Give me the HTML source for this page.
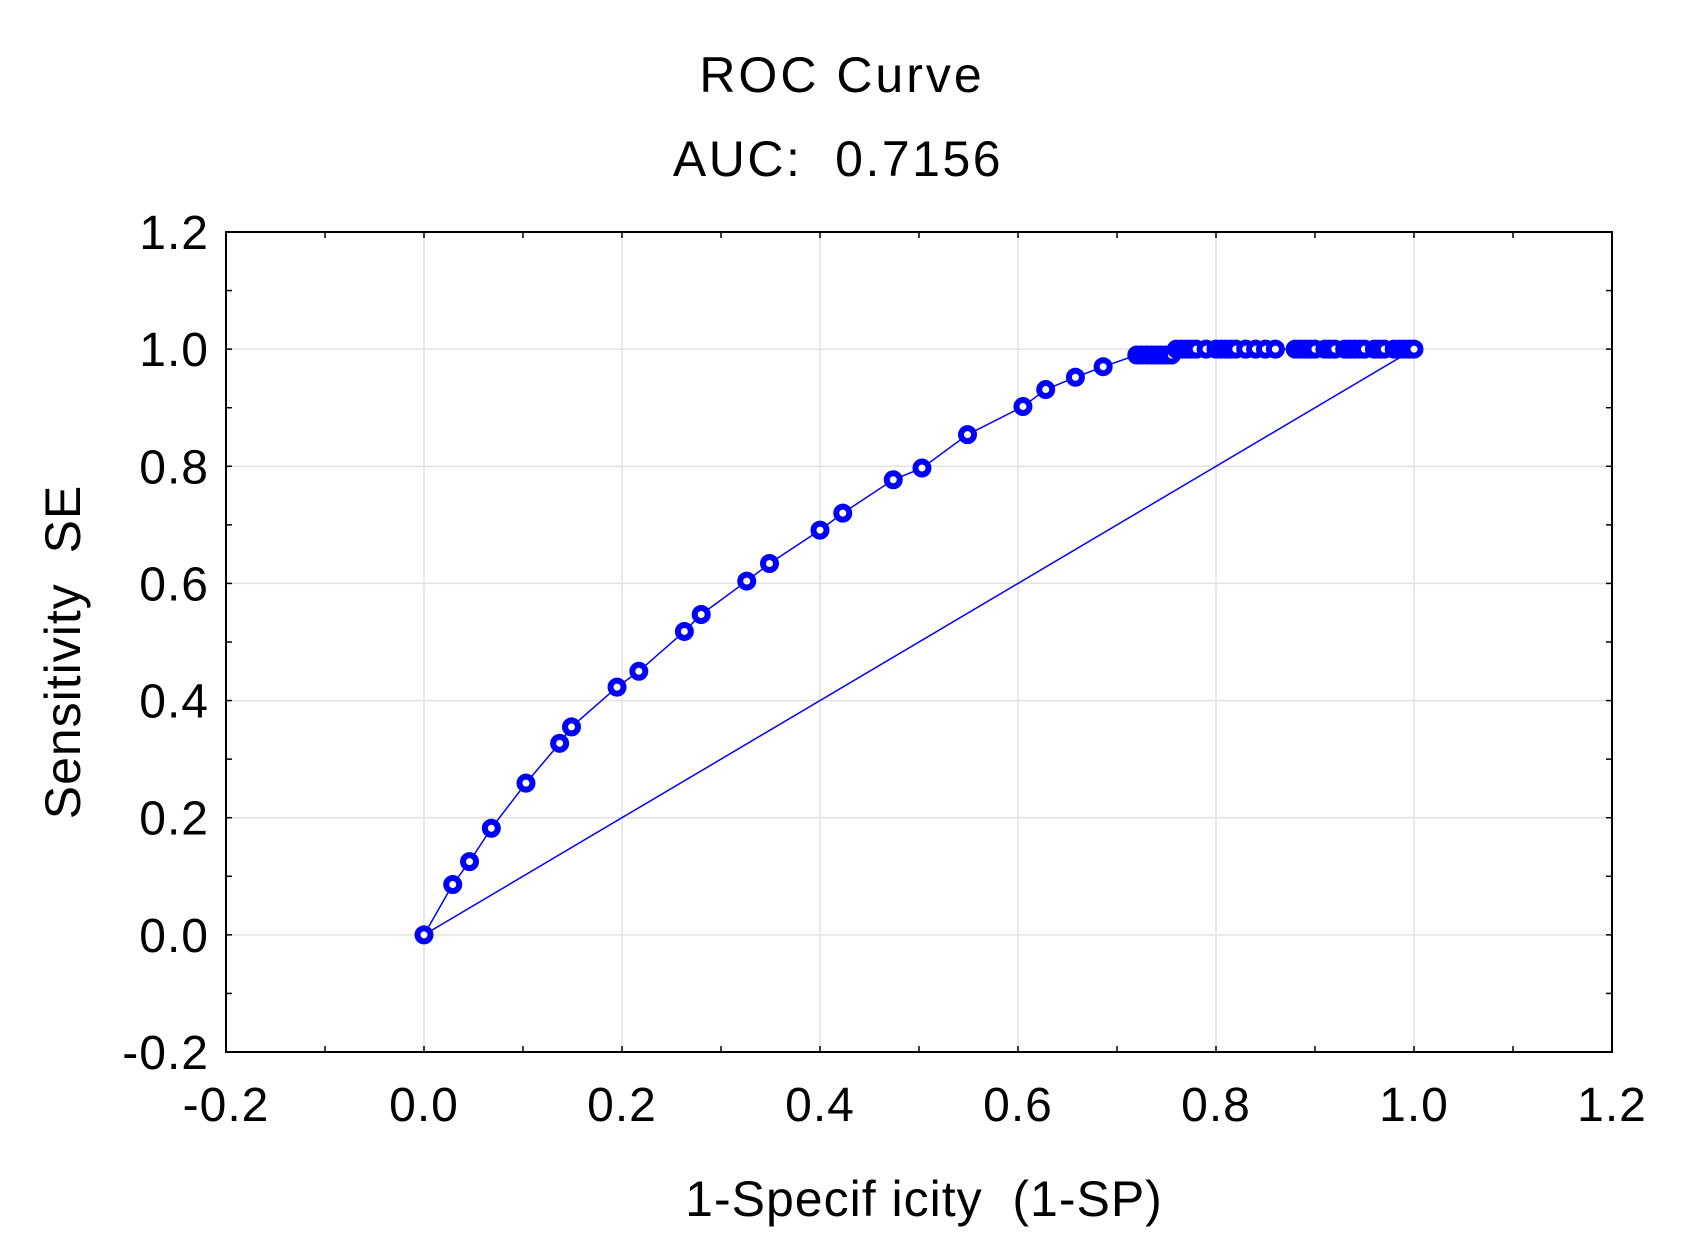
<!DOCTYPE html>
<html><head><meta charset="utf-8"><style>
html,body{margin:0;padding:0;background:#fff;}
svg{display:block;font-family:"Liberation Sans",Arial,sans-serif;}
</style></head><body>
<svg id="chart" width="1688" height="1254" viewBox="0 0 1688 1254">
<text x="842" y="92" font-size="50" text-anchor="middle" letter-spacing="3">ROC Curve</text>
<text x="838" y="176" font-size="50" text-anchor="middle" letter-spacing="2.5" xml:space="preserve">AUC:  0.7156</text>
<g id="grid"></g>
<g id="ticks"></g>
<rect x="226" y="232" width="1386" height="820" fill="none" stroke="#000" stroke-width="2"/>
<g id="series"></g>
<text x="924" y="1216" font-size="50" text-anchor="middle" letter-spacing="1" xml:space="preserve">1-Specif icity  (1-SP)</text>
<text x="0" y="0" font-size="50" text-anchor="middle" letter-spacing="1" transform="translate(80,652) rotate(-90)" xml:space="preserve">Sensitivity  SE</text>
</svg>
<script>
const xTicks=[-0.2,0,0.2,0.4,0.6,0.8,1.0,1.2];
const yTicks=[-0.2,0,0.2,0.4,0.6,0.8,1.0,1.2];
const tickLabels=["-0.2","0.0","0.2","0.4","0.6","0.8","1.0","1.2"];
const fprValues=[0,0.029,0.046,0.068,0.103,0.137,0.149,0.195,0.217,0.263,0.280,0.326,0.349,0.400,0.423,0.474,0.503,0.549,0.605,0.628,0.658,0.686,
0.72,0.725,0.73,0.735,0.74,0.745,0.75,0.755,
0.76,0.765,0.77,0.775,0.78,0.79,0.80,0.805,0.81,0.815,0.82,0.83,0.84,0.85,0.86,0.88,0.885,0.89,0.895,0.90,0.91,0.915,0.92,0.93,0.935,0.94,0.945,0.95,0.96,0.965,0.97,0.98,0.985,0.99,0.995,1.0];
const tprValues=[0,0.086,0.125,0.182,0.259,0.327,0.355,0.423,0.450,0.518,0.547,0.604,0.634,0.691,0.720,0.777,0.797,0.854,0.902,0.931,0.952,0.970,
0.99,0.99,0.99,0.99,0.99,0.99,0.99,0.99,
1,1,1,1,1,1,1,1,1,1,1,1,1,1,1,1,1,1,1,1,1,1,1,1,1,1,1,1,1,1,1,1,1,1,1,1];
const refX=[0,1];
const refY=[0,1];
const L=226,R=1612,T=232,B=1052;
function sx(v){return L+(v+0.2)/1.4*(R-L);}
function sy(v){return B-(v+0.2)/1.4*(B-T);}
const NS="http://www.w3.org/2000/svg";
function mk(tag,attrs,parent){const e=document.createElementNS(NS,tag);for(const k in attrs)e.setAttribute(k,attrs[k]);parent.appendChild(e);return e;}
const grid=document.getElementById('grid'),ticks=document.getElementById('ticks'),series=document.getElementById('series'),svg=document.getElementById('chart');
xTicks.forEach((v,i)=>{
  if(i>0&&i<xTicks.length-1){const g=mk('line',{x1:sx(v),x2:sx(v),y1:T,y2:B,stroke:'#e2e2e2','stroke-width':1.5},grid);
  
  }
  const t=mk('text',{x:sx(v),y:1121,'font-size':48,'text-anchor':'middle','letter-spacing':1},svg);t.textContent=tickLabels[i];
  
  
});
yTicks.forEach((v,i)=>{
  if(i>0&&i<yTicks.length-1){const g=mk('line',{x1:L,x2:R,y1:sy(v),y2:sy(v),stroke:'#e2e2e2','stroke-width':1.5},grid);
  
  }
  const t=mk('text',{x:209,y:sy(v)+17,'font-size':48,'text-anchor':'end','letter-spacing':1},svg);t.textContent=tickLabels[i];
  
  
});
for(let k=-2;k<=12;k++){const v=k/10;
  mk('line',{x1:sx(v),x2:sx(v),y1:B,y2:B-6,stroke:'#000','stroke-width':1.5},ticks);
  mk('line',{x1:sx(v),x2:sx(v),y1:T,y2:T+6,stroke:'#000','stroke-width':1.5},ticks);
  mk('line',{x1:L,x2:L+6,y1:sy(v),y2:sy(v),stroke:'#000','stroke-width':1.5},ticks);
  mk('line',{x1:R,x2:R-6,y1:sy(v),y2:sy(v),stroke:'#000','stroke-width':1.5},ticks);
}
const ref=mk('line',{x1:sx(refX[0]),y1:sy(refY[0]),x2:sx(refX[1]),y2:sy(refY[1]),stroke:'#0000ff','stroke-width':1.5},series);


const pts=fprValues.map((x,i)=>sx(x)+','+sy(tprValues[i])).join(' ');
const line=mk('polyline',{points:pts,fill:'none',stroke:'#0000ff','stroke-width':1.5},series);


fprValues.forEach((x,i)=>{
  const c=mk('circle',{cx:sx(x),cy:sy(tprValues[i]),r:6.5,fill:'#fff',stroke:'#0000ff','stroke-width':6},series);
  
  
});
</script>
</body></html>
